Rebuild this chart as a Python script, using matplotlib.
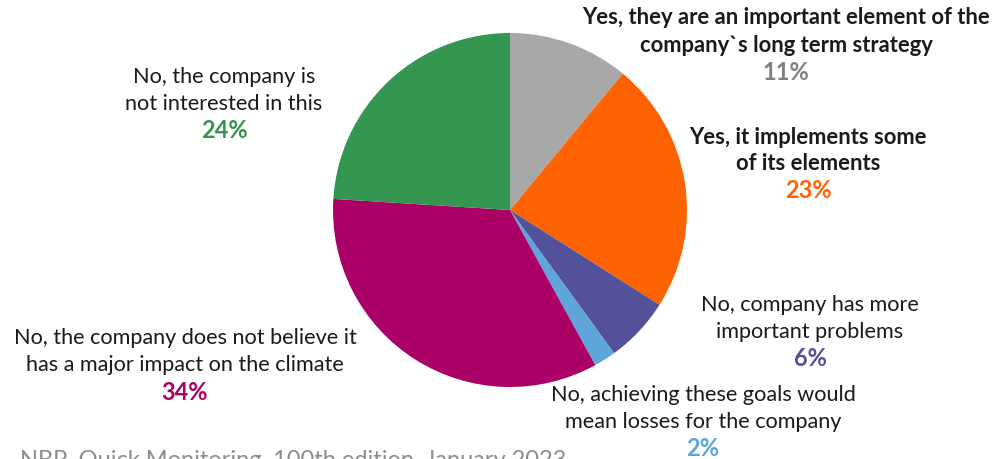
import matplotlib
matplotlib.use("Agg")
import matplotlib.pyplot as plt

plt.rcParams["font.family"] = ["Lato", "DejaVu Sans"]

# survey answers, clockwise from 12 o'clock
labels = [
    "Yes, they are an important element of the\ncompany`s long term strategy",
    "Yes, it implements some\nof its elements",
    "No, company has more\nimportant problems",
    "No, achieving these goals would\nmean losses for the company",
    "No, the company does not believe it\nhas a major impact on the climate",
    "No, the company is\nnot interested in this",
]
shares = [11, 23, 6, 2, 34, 24]
colors = ["#A8A8A8", "#FF6200", "#525199", "#5DA5DA", "#AB0066", "#349650"]
pct_colors = ["#7F7F7F", "#FF6200", "#525199", "#5DA5DA", "#AB0066", "#349650"]
bold_label = [True, True, False, False, False, False]
source = "NBP, Quick Monitoring, 100th edition, January 2023"

W, H = 995, 459
fig = plt.figure(figsize=(W / 100, H / 100), dpi=100)
ax = fig.add_axes([0, 0, 1, 1])

cx, cy, r = 510, H - 210, 177
ax.pie(shares, colors=colors, startangle=90, counterclock=False,
       center=(cx, cy), radius=r, frame=True,
       wedgeprops=dict(linewidth=0))
ax.set_xlim(0, W)
ax.set_ylim(0, H)
ax.set_aspect("auto")
ax.axis("off")

# label anchor points (centre x, first-line y), in pixels from top-left
anchors = [(786, 18), (808, 137), (810, 305), (703, 395), (185, 338), (224, 77)]
line_h = 27.0
for lab, val, pc, bold, (x, y) in zip(labels, shares, pct_colors, bold_label, anchors):
    for i, line in enumerate(lab.split("\n")):
        ax.text(x, H - (y + i * line_h), line, ha="center", va="center",
                fontsize=15.8 if bold else 15.6, color="#1A1A1A",
                fontweight="bold" if bold else "normal")
    ax.text(x, H - (y + 2 * line_h), f"{val}%", ha="center", va="center",
            fontsize=17, color=pc, fontweight="bold")

ax.text(20, H - 450, source, ha="left", va="top", fontsize=17, color="#8C8C8C")

fig.savefig("out.png", dpi=100)
